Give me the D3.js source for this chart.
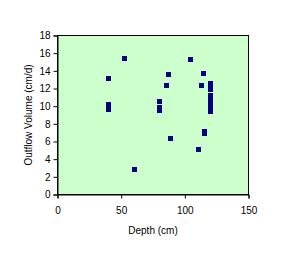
<!DOCTYPE html>
<html><head><meta charset="utf-8">
<script src="https://cdn.jsdelivr.net/npm/d3@7"></script>
<style>body{margin:0;background:#fff}svg{display:block}text{font-family:"Liberation Sans",Arial,sans-serif;font-size:10px;fill:#000}</style>
</head><body><svg id="c" width="285" height="268"></svg>
<script>
const depth  = [52, 40, 40, 40, 60, 104, 87, 114, 85, 113, 120, 120, 120, 120, 120, 120, 120, 120, 120, 80, 80, 80, 115, 115, 88, 110];
const volume = [15.4, 13.2, 10.2, 9.7, 2.9, 15.3, 13.6, 13.8, 12.4, 12.4, 12.6, 12.3, 12.0, 11.3, 10.9, 10.5, 10.2, 9.8, 9.5, 10.6, 9.9, 9.6, 7.2, 7.0, 6.4, 5.1];
const xTicks = [0, 50, 100, 150];
const yTicks = [0, 2, 4, 6, 8, 10, 12, 14, 16, 18];
const xTitle = "Depth (cm)";
const yTitle = "Outflow Volume (cm/d)";

const svg = d3.select("#c");
const L = 57.5, R = 248.5, T = 35.5, B = 194.5;
const x = d3.scaleLinear().domain([0, 150]).range([L, R]);
const y = d3.scaleLinear().domain([0, 18]).range([B, T]);

svg.append("rect").attr("x", L).attr("y", T).attr("width", R - L).attr("height", B - T)
  .attr("fill", "#CCFFCC").attr("stroke", "#000").attr("stroke-width", 1);

const ya = svg.append("g").attr("transform", `translate(${L},0)`)
  .call(d3.axisLeft(y).tickValues(yTicks).tickSize(4).tickPadding(3).tickFormat(d3.format("d")));
const xa = svg.append("g").attr("transform", `translate(0,${B})`)
  .call(d3.axisBottom(x).tickValues(xTicks).tickSize(4).tickPadding(8).tickFormat(d3.format("d")));
[ya, xa].forEach(g => {
  g.selectAll("path,line").attr("stroke", "#000");
  g.selectAll("text").attr("font-size", 10).attr("font-family", '"Liberation Sans",Arial,sans-serif').attr("fill", "#000");
});

svg.append("g").attr("shape-rendering", "crispEdges").selectAll("rect").data(depth).join("rect")
  .attr("x", (d, i) => Math.round(x(d)) - 2)
  .attr("y", (d, i) => Math.round(y(volume[i])) - 2)
  .attr("width", 5).attr("height", 5).attr("fill", "#000080");

svg.append("text").attr("x", (L + R) / 2).attr("y", 234).attr("text-anchor", "middle").text(xTitle);
svg.append("text").attr("transform", `translate(32,${(T + B) / 2}) rotate(-90)`)
  .attr("text-anchor", "middle").text(yTitle);
</script></body></html>
